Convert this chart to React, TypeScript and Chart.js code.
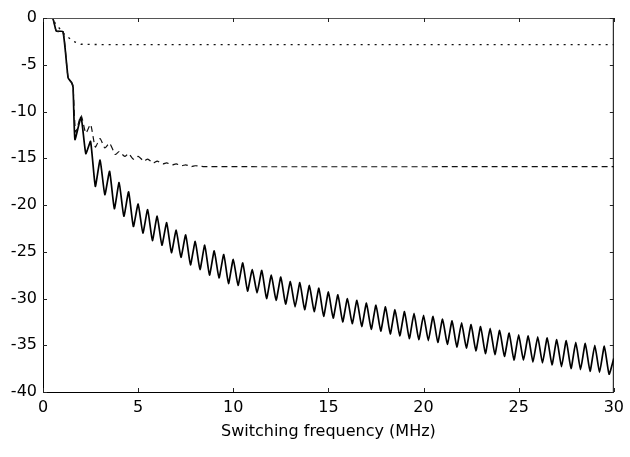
import React, { useEffect, useRef } from "react";
import { Chart, registerables } from "chart.js";

Chart.register(...registerables);

// ---- data ----
const xAxisTitle = "Switching frequency (MHz)";
const xRange = [0, 30];
const yRange = [-40, 0];

// dotted curve
const dotX = [0, 0.5, 0.65, 1.15, 1.6, 2.0, 3.0, 30];
const dotY = [0, 0, -0.6, -1.8, -2.5, -2.8, -2.85, -2.85];

// dashed curve
const dashX = [0, 0.5, 0.7, 1.05, 1.32, 1.5, 1.58, 1.72, 2.0, 2.25, 2.5, 2.75, 3.0, 3.25, 3.5, 3.8, 4.0, 4.3, 4.5, 4.75, 5.0, 5.3, 5.5, 5.8, 6.0, 6.3, 6.5, 6.8, 7.0, 7.3, 7.5, 7.8, 8.0, 8.5, 30];
const dashY = [0, 0, -1.4, -1.45, -6.4, -6.9, -7.4, -12.2, -10.4, -12.3, -11.4, -13.8, -12.9, -13.9, -13.4, -14.6, -14.3, -14.8, -14.5, -15.1, -14.8, -15.3, -15.1, -15.5, -15.3, -15.6, -15.5, -15.7, -15.6, -15.8, -15.7, -15.9, -15.8, -15.9, -15.9];

// solid oscillating curve
const solidX = [
  0, 0.5, 0.7, 1.05, 1.32, 1.5, 1.58, 1.68,
  2.0, 2.25, 2.5, 2.75, 3.0, 3.25, 3.5, 3.75, 4.0, 4.25, 4.5, 4.75,
  5.0, 5.25, 5.5, 5.75, 6.0, 6.25, 6.5, 6.75, 7.0, 7.25, 7.5, 7.75,
  8.0, 8.25, 8.5, 8.75, 9.0, 9.25, 9.5, 9.75, 10.0, 10.25, 10.5, 10.75,
  11.0, 11.25, 11.5, 11.75, 12.0, 12.25, 12.5, 12.75, 13.0, 13.25, 13.5, 13.75,
  14.0, 14.25, 14.5, 14.75, 15.0, 15.25, 15.5, 15.75, 16.0, 16.25, 16.5, 16.75,
  17.0, 17.25, 17.5, 17.75, 18.0, 18.25, 18.5, 18.75, 19.0, 19.25, 19.5, 19.75,
  20.0, 20.25, 20.5, 20.75, 21.0, 21.25, 21.5, 21.75, 22.0, 22.25, 22.5, 22.75,
  23.0, 23.25, 23.5, 23.75, 24.0, 24.25, 24.5, 24.75, 25.0, 25.25, 25.5, 25.75,
  26.0, 26.25, 26.5, 26.75, 27.0, 27.25, 27.5, 27.75, 28.0, 28.25, 28.5, 28.75,
  29.0, 29.25, 29.5, 29.75, 30,
];
const solidY = [
  0, 0, -1.4, -1.45, -6.4, -6.9, -7.4, -13.0,
  -10.6, -14.5, -13.2, -18.0, -15.2, -18.9, -16.4, -20.4, -17.6, -21.2, -18.6, -22.3,
  -19.9, -23.0, -20.5, -23.8, -21.2, -24.3, -21.9, -25.1, -22.7, -25.6, -23.2, -26.4,
  -23.9, -26.9, -24.3, -27.5, -24.9, -27.8, -25.3, -28.4, -25.8, -28.6, -26.2, -29.2,
  -26.9, -29.4, -27.0, -30.0, -27.5, -30.2, -27.7, -30.6, -28.2, -30.9, -28.3, -31.2,
  -28.6, -31.4, -28.9, -31.9, -29.3, -32.1, -29.6, -32.5, -30.0, -32.7, -30.2, -33.0,
  -30.5, -33.3, -30.7, -33.5, -30.9, -33.8, -31.2, -34.0, -31.4, -34.3, -31.6, -34.4,
  -31.8, -34.5, -31.9, -34.7, -32.2, -34.9, -32.4, -35.2, -32.6, -35.3, -32.8, -35.6,
  -33.0, -35.9, -33.2, -36.0, -33.4, -36.2, -33.7, -36.6, -33.9, -36.6, -34.0, -36.8,
  -34.1, -36.9, -34.2, -37.1, -34.4, -37.3, -34.5, -37.5, -34.7, -37.6, -34.8, -37.8,
  -35.0, -37.9, -35.1, -38.1, -36.4,
];

const toPoints = (xs: number[], ys: number[]) => xs.map((x, i) => ({ x, y: ys[i] }));

const FONT = "'DejaVu Sans', 'Liberation Sans', Arial, sans-serif";

const boxTicksPlugin = {
  id: "boxTicks",
  afterDraw(chart: any) {
    const { ctx, chartArea } = chart;
    const { left, right, top, bottom } = chartArea;
    const xs = chart.scales.x;
    const ys = chart.scales.y;
    const len = 4;
    ctx.save();
    ctx.lineWidth = 1;
    // box
    ctx.strokeStyle = "#555";
    ctx.beginPath();
    ctx.moveTo(left, top + 0.5);
    ctx.lineTo(right, top + 0.5);
    ctx.stroke();
    ctx.strokeStyle = "#000";
    ctx.beginPath();
    ctx.moveTo(right - 0.5, top);
    ctx.lineTo(right - 0.5, bottom);
    ctx.stroke();
    // ticks
    ctx.strokeStyle = "#222";
    ctx.beginPath();
    xs.ticks.forEach((t: any) => {
      const px = Math.round(xs.getPixelForValue(t.value)) + 0.5;
      ctx.moveTo(px, bottom);
      ctx.lineTo(px, bottom - len);
      ctx.moveTo(px, top);
      ctx.lineTo(px, top + len);
    });
    ys.ticks.forEach((t: any) => {
      const py = Math.round(ys.getPixelForValue(t.value)) + 0.5;
      ctx.moveTo(left, py);
      ctx.lineTo(left + len, py);
      ctx.moveTo(right, py);
      ctx.lineTo(right - len, py);
    });
    ctx.stroke();
    ctx.restore();
  },
};

export default function App() {
  const canvasRef = useRef<HTMLCanvasElement | null>(null);

  useEffect(() => {
    if (!canvasRef.current) return;
    const chart = new Chart(canvasRef.current, {
      type: "line",
      data: {
        datasets: [
          {
            label: "dotted",
            data: toPoints(dotX, dotY),
            borderColor: "#111",
            borderWidth: 1.4,
            borderDash: [2, 5],
            pointRadius: 0,
            tension: 0,
            fill: false,
          },
          {
            label: "dashed",
            data: toPoints(dashX, dashY),
            borderColor: "#111",
            borderWidth: 1.2,
            borderDash: [6, 4],
            pointRadius: 0,
            tension: 0.2,
            fill: false,
          },
          {
            label: "solid",
            data: toPoints(solidX, solidY),
            borderColor: "#000",
            borderWidth: 1.7,
            pointRadius: 0,
            tension: 0.15,
            fill: false,
          },
        ],
      },
      options: {
        animation: false,
        responsive: false,
        devicePixelRatio: 1,
        layout: { padding: { top: 18, right: 12, left: 0, bottom: 0 } },
        plugins: {
          legend: { display: false },
          tooltip: { enabled: false },
        },
        scales: {
          x: {
            type: "linear",
            min: xRange[0],
            max: xRange[1],
            grid: { display: false, drawTicks: false },
            border: { display: true, color: "#000", width: 1 },
            ticks: {
              stepSize: 5,
              maxRotation: 0,
              padding: 6,
              color: "#000",
              font: { family: FONT, size: 16 },
            },
            title: {
              display: true,
              text: xAxisTitle,
              color: "#000",
              font: { family: FONT, size: 16 },
              padding: { top: 0, bottom: 16 },
            },
            afterFit: (scale: any) => {
              scale.height = 65;
            },
          },
          y: {
            type: "linear",
            min: yRange[0],
            max: yRange[1],
            grid: { display: false, drawTicks: false },
            border: { display: true, color: "#000", width: 1 },
            ticks: {
              stepSize: 5,
              padding: 6,
              color: "#000",
              font: { family: FONT, size: 16 },
            },
            afterFit: (scale: any) => {
              scale.width = 43;
            },
          },
        },
      },
      plugins: [boxTicksPlugin],
    });
    return () => chart.destroy();
  }, []);

  return (
    <div style={{ position: "absolute", left: 0, top: 0, width: 630, height: 457, background: "#fff" }}>
      <canvas ref={canvasRef} width={630} height={457} style={{ display: "block" }} />
    </div>
  );
}
